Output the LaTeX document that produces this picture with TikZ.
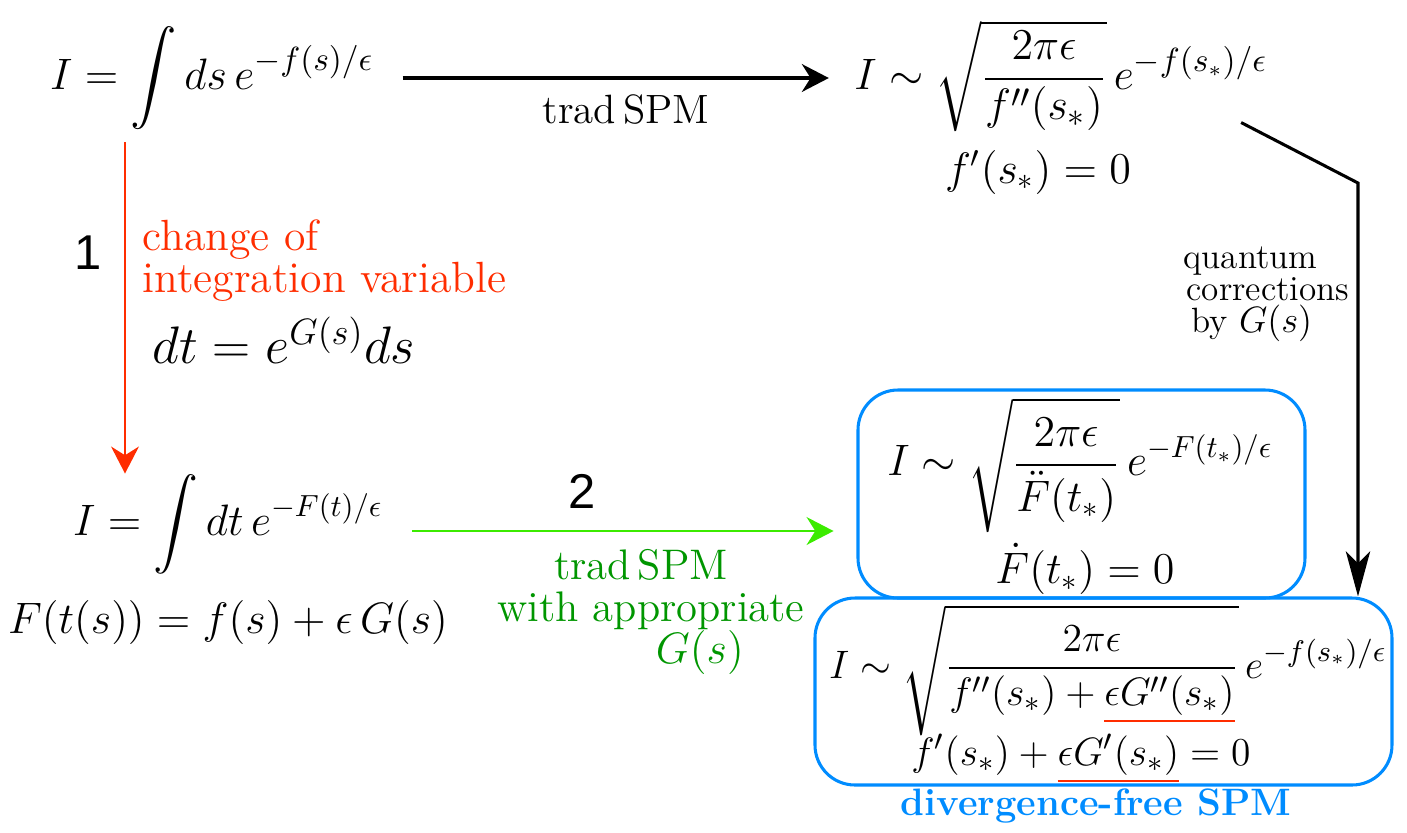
\documentclass[tikz,border=0pt]{standalone}
\usepackage{amsmath}
\usepackage{amssymb}
\usepackage{fontspec}
\usepackage{tikz}
\usetikzlibrary{arrows.meta,positioning,calc}
\newfontfamily\stepnumfont{Liberation Sans}
\newcommand{\pxu}{0.0115cm}
\definecolor{chgred}{RGB}{255,45,0}
\definecolor{spmgreen}{RGB}{0,150,0}
\definecolor{arrgreen}{RGB}{60,235,0}
\definecolor{dfblue}{RGB}{0,140,255}
\newcommand{\redul}[1]{{\color{chgred}\underline{{\color{black}#1}}}}
\tikzset{
  % Base styles
  spm base/.style={
    every node/.style={font=\fontsize{14}{14}\selectfont, inner sep=0pt},
  },
  % Formulas and labels
  formula/.style={font=\fontsize{14}{16}\selectfont},
  big formula/.style={font=\fontsize{18.3}{19}\selectfont},
  lbl text/.style={font=\fontsize{13.4}{13}\selectfont},
  qc text/.style={font=\fontsize{11.5}{10.5}\selectfont, align=left},
  chg text/.style={font=\fontsize{14.3}{13.7}\selectfont, text=chgred, align=left},
  spm text/.style={font=\fontsize{14}{13.7}\selectfont, text=spmgreen, align=center},
  stepnum/.style={font=\fontsize{16}{16}\stepnumfont},
  df text/.style={font=\fontsize{12.5}{12}\selectfont\bfseries, text=dfblue},
  % Boxes around the results
  result box/.style={draw=dfblue, line width=1pt, rounded corners=0.46cm},
  % Arrows
  flow arrow/.style={line width=1pt, -{Stealth[length=0.31cm, width=0.32cm, inset=0.1cm]}},
  long arrow/.style={line width=1pt, -{Stealth[length=0.52cm, width=0.28cm, inset=0.14cm]}},
}

\begin{document}
\begin{tikzpicture}[spm base, x=\pxu, y=-\pxu]
\useasboundingbox (0,0) rectangle (1407,832);

% Original integral and the traditional result
\node[formula, font=\fontsize{15.2}{17}\selectfont] (sI) at (212,78) {$\displaystyle I=\int ds\,e^{-f(s)/\epsilon}$};
\node[formula, font=\fontsize{15}{17}\selectfont] (tI) at (1061,76) {$\displaystyle I\sim\sqrt{\frac{2\pi\epsilon}{f''(s_*)}}\,e^{-f(s_*)/\epsilon}$};
\node[formula] (tcond) at (1038,172) {$f'(s_*)=0$};
\node[lbl text] (tradlbl) at (626,110) {trad\,SPM};

% Step 1
\node[stepnum] (one) at (88,253) {1};
\node[chg text, anchor=north west] (chglbl) at (142,219) {change of\\integration variable};
\node[big formula] (dtrel) at (284,340) {$dt=e^{G(s)}ds$};

% Integral in t
\node[formula, font=\fontsize{14.7}{17}\selectfont] (fI) at (228,524) {$\displaystyle I=\int dt\,e^{-F(t)/\epsilon}$};
\node[formula] (fdef) at (228,622) {$F(t(s))=f(s)+\epsilon\,G(s)$};

% Step 2
\node[stepnum] (two) at (582,491) {2};
\node[spm text] (grnlbl) at (651,612) {trad\,SPM\hspace*{6.5pt}\\with appropriate\\\hspace*{32pt}$G(s)$};

% Results in boxes
\node[result box, minimum width={447*\pxu}, minimum height={208*\pxu}] (ftbox) at (1081.5,494) {};
\node[formula, font=\fontsize{14.5}{16}\selectfont] (ftI) at (1080,465) {$\displaystyle I\sim\sqrt{\frac{2\pi\epsilon}{\ddot{F}(t_*)}}\,e^{-F(t_*)/\epsilon}$};
\node[formula] (ftcond) at (1085,569) {$\dot{F}(t_*)=0$};

\node[result box, minimum width={577*\pxu}, minimum height={187*\pxu}] (dfbox) at (1103.5,691.5) {};
\node[formula, font=\fontsize{13}{15}\selectfont] (dfI) at (1108,670) {\scalebox{1.083}{$\displaystyle I\sim\sqrt{\frac{2\pi\epsilon}{f''(s_*)+\redul{\epsilon G''(s_*)}}}\,e^{-f(s_*)/\epsilon}$}};
\node[formula, font=\fontsize{13}{15}\selectfont] (dfcond) at (1081,759) {\scalebox{1.079}{$f'(s_*)+\redul{\epsilon G'(s_*)}=0$}};
\node[df text] (dflbl) at (1096,806) {divergence-free SPM};

% Quantum corrections
\node[qc text, anchor=north west] (qc) at (1183,246) {quantum\\\hspace*{1pt}corrections\\\hspace*{2.5pt}by $G(s)$};
\coordinate (qbend) at (1358,183);

% Connectors
\coordinate (grnstart) at ($(fI.east)+(0,7)$);
\draw[flow arrow, shorten <=9.2pt, shorten >=8.2pt] (sI.east) -- (sI.east -| tI.west);
\draw[flow arrow, chgred, line width=0.7pt, shorten <=4pt] (sI.south -| 125,0) -- (fI.north -| 125,0);
\draw[flow arrow, arrgreen, line width=0.8pt, shorten <=9.5pt, shorten >=7.5pt] (grnstart) -- (grnstart -| ftbox.west);
\draw[long arrow] ($(tI.south east)+(-27,-10)$) -- (qbend) -- (qbend |- dfbox.north);
\end{tikzpicture}
\end{document}
